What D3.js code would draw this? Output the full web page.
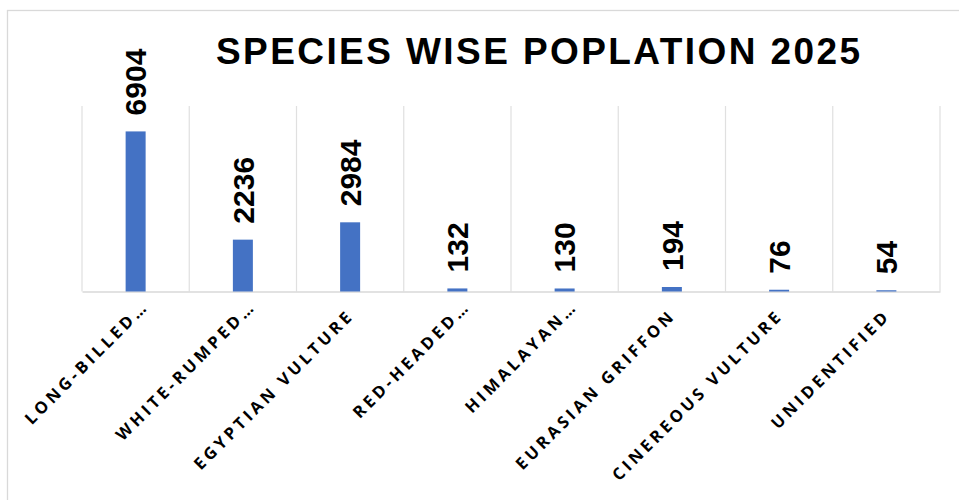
<!DOCTYPE html>
<html>
<head>
<meta charset="utf-8">
<script src="https://cdn.jsdelivr.net/npm/d3@7"></script>
<style>
  html, body { margin: 0; padding: 0; background: #ffffff; }
  svg { display: block; }
</style>
</head>
<body>
<svg id="chart" width="959" height="500"></svg>
<script>
// Species-wise vulture population counts, 2025
const categories = [
  "LONG-BILLED\u2026",
  "WHITE-RUMPED\u2026",
  "EGYPTIAN VULTURE",
  "RED-HEADED\u2026",
  "HIMALAYAN\u2026",
  "EURASIAN GRIFFON",
  "CINEREOUS VULTURE",
  "UNIDENTIFIED"
];
const population = [6904, 2236, 2984, 132, 130, 194, 76, 54];
const titleText = "SPECIES WISE POPLATION 2025";
const yMax = 8000;

const svg = d3.select("#chart");
const plot = { left: 82, right: 940, top: 106, bottom: 291.5 };

// Outer chart frame (left and top edges fall inside the view)
svg.append("rect")
  .attr("x", 7.5).attr("y", 10.5)
  .attr("width", 1200).attr("height", 1200)
  .attr("fill", "none")
  .attr("stroke", "#d9d9d9")
  .attr("stroke-width", 1.3);

// Category slots (gridlines at slot edges) and narrower bars centred in them
const xSlot = d3.scaleBand().domain(categories).range([plot.left, plot.right]).padding(0);
const xBar = d3.scaleBand().domain(categories).range([plot.left, plot.right])
  .paddingInner(0.8135).paddingOuter(0.8135 / 2);
const y = d3.scaleLinear().domain([0, yMax]).range([plot.bottom, plot.top]);

// Vertical category gridlines
const edges = categories.map(c => xSlot(c)).concat([plot.right]);
svg.append("g").selectAll("line")
  .data(edges)
  .join("line")
  .attr("x1", d => d).attr("x2", d => d)
  .attr("y1", y(yMax)).attr("y2", y(0))
  .attr("stroke", "#e0e0e0")
  .attr("stroke-width", 1.2);

// Category axis: baseline plus rotated labels
const xAxis = d3.axisBottom(xSlot).tickSize(0).tickPadding(0);
const gx = svg.append("g")
  .attr("transform", `translate(0,${y(0)})`)
  .call(xAxis);
gx.select(".domain")
  .attr("stroke", "#d9d9d9")
  .attr("stroke-width", 1.5);
gx.selectAll(".tick text")
  .attr("font-family", "'Open Sans', sans-serif")
  .attr("font-weight", 700)
  .attr("font-size", 16.5)
  .attr("letter-spacing", 3.6)
  .attr("fill", "#000")
  .attr("text-anchor", "end")
  .attr("dy", null)
  .attr("y", 0)
  // truncated names sit a little further along their baseline
  .attr("dx", d => d.endsWith("\u2026") ? 13 : 0)
  .attr("transform", "translate(5,25) rotate(-45)");

// Bars
svg.append("g").selectAll("rect")
  .data(population)
  .join("rect")
  .attr("x", (d, i) => xBar(categories[i]))
  .attr("width", xBar.bandwidth())
  .attr("y", d => y(d))
  .attr("height", d => y(0) - y(d))
  .attr("fill", "#4472c4");

// Value labels, rotated, above each bar
svg.append("g").selectAll("text")
  .data(population)
  .join("text")
  .attr("transform", (d, i) =>
    `translate(${xSlot(categories[i]) + xSlot.bandwidth() / 2},${y(d) - 16}) rotate(-90)`)
  .attr("dy", "0.36em")
  .attr("text-anchor", "start")
  .attr("font-family", "'Liberation Sans', Arial, sans-serif")
  .attr("font-weight", 700)
  .attr("font-size", 30)
  .attr("fill", "#000")
  .text(d => d);

// Title
svg.append("text")
  .attr("x", 216).attr("y", 64.3)
  .attr("font-family", "'Liberation Sans', Arial, sans-serif")
  .attr("font-weight", 700)
  .attr("font-size", 37)
  .attr("textLength", 644)
  .attr("lengthAdjust", "spacing")
  .attr("fill", "#000")
  .text(titleText);
</script>
</body>
</html>
